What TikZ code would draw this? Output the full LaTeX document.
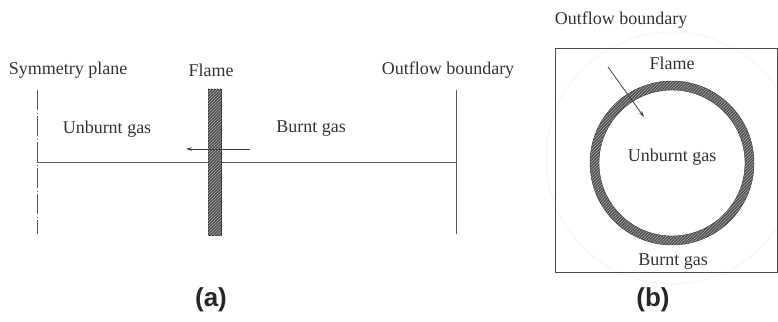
\documentclass[tikz,border=0pt]{standalone}
\usepackage{fontspec}
\setmainfont{Liberation Serif}
\setsansfont{Liberation Sans}
\usetikzlibrary{patterns,arrows.meta}
\begin{document}
\begin{tikzpicture}[x=1pt,y=-1pt,
  lbl/.style={inner sep=0pt,text=black!80,font=\fontsize{18}{20}\selectfont},
  captext/.style={inner sep=0pt,text=black!85,font=\sffamily\bfseries\fontsize{26}{28}\selectfont},
  ln/.style={draw=black!65,line width=0.9pt},
  arr/.style={draw=black!75,line width=0.8pt,-{Stealth[length=6pt,width=3.5pt]}},
  flamefill/.style={fill=black!68},
  hatch/.style={pattern=north east lines,pattern color=black!35}]
\useasboundingbox (0,0) rectangle (778,321);
% ---------- (a) ----------
\node[lbl] (sym) at (68,70) {Symmetry plane};
\node[lbl] (flA) at (211,70) {Flame};
\node[lbl] (outA) at (448,70) {Outflow boundary};
\node[lbl] (ubA) at (107,129) {Unburnt gas};
\node[lbl] (bA) at (311,129) {Burnt gas};
\coordinate (symT) at (37,90);
\coordinate (symB) at (37,234);
\coordinate (symM) at (37,162);
\coordinate (outT) at (456,90);
\coordinate (outB) at (456,234);
\coordinate (outM) at (456,162);
\draw[ln,line width=0.8pt,dash pattern=on 20pt off 2.5pt on 1pt off 2.5pt] (symT) -- (symB);
\draw[ln] (outT) -- (outB);
\draw[ln] (symM) -- (outM);
\node[flamefill,draw=black!80,line width=0.5pt,minimum width=13pt,minimum height=146pt,inner sep=0pt] (flameA) at (214.5,162) {};
\fill[hatch] (flameA.south west) rectangle (flameA.north east);
\coordinate (arrA1) at (250,149);
\coordinate (arrA2) at (186,149);
\draw[arr] (arrA1) -- (arrA2);
\node[captext] (capA) at (211,300) {(a)};
% ---------- (b) ----------
\node[lbl] (outB2) at (621,20) {Outflow boundary};
\draw[black!5,line width=0.8pt] (672,158) circle (126);
\node[draw=black!70,line width=0.8pt,minimum width=222pt,minimum height=224pt,inner sep=0pt] (box) at (666,160) {};
\coordinate (rc) at (672,163);
\fill[black!68,even odd rule] (rc) circle (82) (rc) circle (73);
\fill[hatch,even odd rule] (rc) circle (82) (rc) circle (73);
\draw[black!75,line width=0.4pt] (rc) circle (82) (rc) circle (73);
\node[lbl] (flB) at (672,63) {Flame};
\node[lbl] (ubB) at (672,157) {Unburnt gas};
\node[lbl] (bB) at (673,262) {Burnt gas};
\coordinate (arrB1) at (608,67);
\coordinate (arrB2) at (644,117);
\draw[arr] (arrB1) -- (arrB2);
\node[captext] (capB) at (653,300) {(b)};
\end{tikzpicture}
\end{document}
